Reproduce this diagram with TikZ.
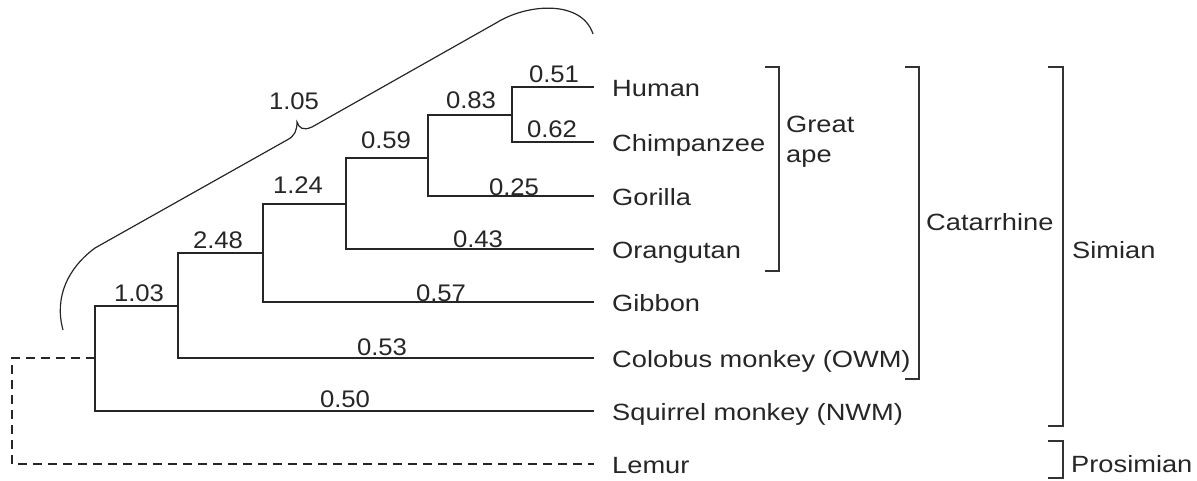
\documentclass[tikz,border=0pt]{standalone}
\usepackage{fontspec}
\setmainfont{Liberation Sans}
\newfontfamily\widefont[FakeStretch=1.16]{Liberation Sans}
\newfontfamily\numfont[FakeStretch=1.07]{Liberation Sans}
\begin{document}
\begin{tikzpicture}[x=1pt,y=-1pt,
  br/.style={line width=1.5pt, draw=black!85},
  dsh/.style={line width=1.5pt, draw=black!85, dash pattern=on 9pt off 6pt},
  brk/.style={line width=1.5pt, draw=black!80},
  lab/.style={font=\numfont\fontsize{24}{28}\selectfont, anchor=base, inner sep=0pt, text=black!85},
  leaf/.style={font=\widefont\fontsize{23.5}{30}\selectfont, anchor=base west, inner sep=0pt, text=black!85, align=left},
]
\useasboundingbox (0,0) rectangle (1197,480);
% leaf ends
\coordinate (eHum) at (594,87);
\coordinate (eChi) at (594,142);
\coordinate (eGor) at (594,196);
\coordinate (eOra) at (594,249);
\coordinate (eGib) at (594,302);
\coordinate (eCol) at (594,358);
\coordinate (eSqu) at (594,411);
\coordinate (eLem) at (594,464);
% leaf names
\node[leaf] (Hum) at (612,96) {Human};
\node[leaf] (Chi) at (612,151) {Chimpanzee};
\node[leaf] (Gor) at (612,205) {Gorilla};
\node[leaf] (Ora) at (612,258) {Orangutan};
\node[leaf] (Gib) at (612,311) {Gibbon};
\node[leaf] (Col) at (612,367) {Colobus monkey (OWM)};
\node[leaf] (Squ) at (612,420) {Squirrel monkey (NWM)};
\node[leaf] (Lem) at (612,473) {Lemur};
% internal nodes
\coordinate (n1) at (512,115);
\coordinate (n2) at (428,158);
\coordinate (n3) at (346,204);
\coordinate (n4) at (263,253);
\coordinate (n5) at (178,306);
\coordinate (n6) at (95,358);
\coordinate (nL) at (12,410);
% branches
\draw[br] (eHum) -| (n1) |- (eChi);
\draw[br] (n1) -| (n2) |- (eGor);
\draw[br] (n2) -| (n3) |- (eOra);
\draw[br] (n3) -| (n4) |- (eGib);
\draw[br] (n4) -| (n5) |- (eCol);
\draw[br] (n5) -| (n6) |- (eSqu);
\draw[dsh] (n6) -| (nL) |- (eLem);
% branch lengths
\node[lab] (l051) at (554,82) {0.51};
\node[lab] (l062) at (552,137) {0.62};
\node[lab] (l083) at (471,108) {0.83};
\node[lab] (l059) at (386,148) {0.59};
\node[lab] (l025) at (514,195) {0.25};
\node[lab] (l124) at (298,193) {1.24};
\node[lab] (l043) at (478,247) {0.43};
\node[lab] (l248) at (218,248) {2.48};
\node[lab] (l057) at (441,301) {0.57};
\node[lab] (l103) at (139,301) {1.03};
\node[lab] (l053) at (382,355) {0.53};
\node[lab] (l050) at (345,407) {0.50};
\node[lab] (l105) at (294,109) {1.05};
% brace
\draw[line width=1.2pt, draw=black!85]
  (63,330) .. controls (54,297) and (68,268) .. (95,248)
  -- (287,140) .. controls (295,136) and (297,130) .. (297,122)
  .. controls (299,128) and (303,131) .. (312,127)
  -- (496,23) .. controls (528,3) and (582,0) .. (593,34);
% group brackets
\draw[brk] (765,67) -- (779,67) -- (779,271) -- (765,271);
\draw[brk] (905,67) -- (919,67) -- (919,379) -- (905,379);
\draw[brk] (1048,67) -- (1063,67) -- (1063,426) -- (1048,426);
\draw[brk] (1048,441) -- (1063,441) -- (1063,478) -- (1048,478);
\node[leaf] (ga) at (786,162) {Great\\ape};
\node[leaf] (cat) at (926,230) {Catarrhine};
\node[leaf] (sim) at (1072,258) {Simian};
\node[leaf] (pro) at (1071,472) {Prosimian};
\end{tikzpicture}
\end{document}
